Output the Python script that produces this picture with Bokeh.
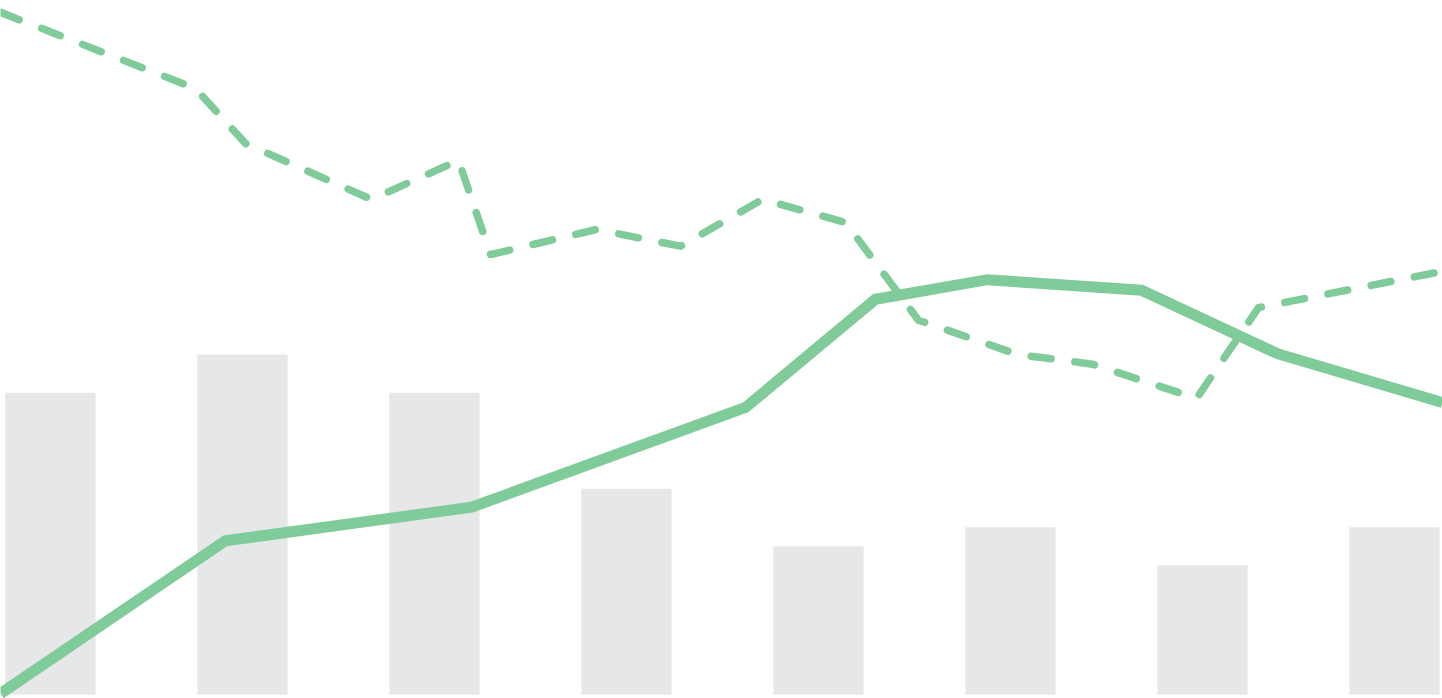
from bokeh.plotting import figure
from bokeh.models import Range1d
from bokeh.embed import file_html
from bokeh.resources import INLINE

# Bars (categorical positions 0..7)
bar_x = [0, 1, 2, 3, 4, 5, 6, 7]
bar_values = [15.8, 17.8, 15.8, 10.77, 7.76, 8.76, 6.77, 8.76]

# Solid line (x in bar-index units, y on 0..100 scale)
solid_x = [-0.26, 0.911, 2.193, 3.620, 4.297, 4.880, 5.682, 6.391, 7.25]
solid_y = [0.7, 22.6, 27.4, 41.7, 57.2, 60.0, 58.5, 49.4, 42.4]

# Dashed line
dashed_x = [-0.26, 0.755, 1.016, 1.672, 2.125, 2.292, 2.844, 3.281, 3.708,
            4.141, 4.521, 5.036, 5.427, 5.969, 6.292, 7.25]
dashed_y = [98.3, 87.4, 79.5, 71.5, 77.1, 63.6, 67.2, 64.8, 71.5,
            68.2, 54.2, 49.3, 47.9, 43.0, 56.0, 61.2]

GREEN = "#80CB9A"
BAR = "#E6E7E9"

p = figure(width=1442, height=698, output_backend="svg", toolbar_location=None,
           x_range=Range1d(-0.2604, 7.25), y_range=Range1d(-0.209, 36.34),
           min_border=0, min_border_left=0, min_border_right=0,
           min_border_top=0, min_border_bottom=0)
p.extra_y_ranges = {"line": Range1d(0, 100)}
p.xaxis.visible = False
p.yaxis.visible = False
p.grid.visible = False
p.outline_line_color = None
p.background_fill_color = "white"
p.border_fill_color = "white"

p.vbar(x=bar_x, top=bar_values, bottom=0, width=0.47, fill_color=BAR, line_color=None)

p.line(solid_x, solid_y, y_range_name="line", line_color=GREEN, line_width=11,
       line_join="miter")
p.line(dashed_x, dashed_y, y_range_name="line", line_color=GREEN, line_width=7.5,
       line_dash="20 24", line_cap="round", line_join="round")

html = file_html(p, INLINE)
html = html.replace("<head>", "<head><style>html,body{margin:0;padding:0;overflow:hidden;}</style>", 1)
open("out.html", "w").write(html)
